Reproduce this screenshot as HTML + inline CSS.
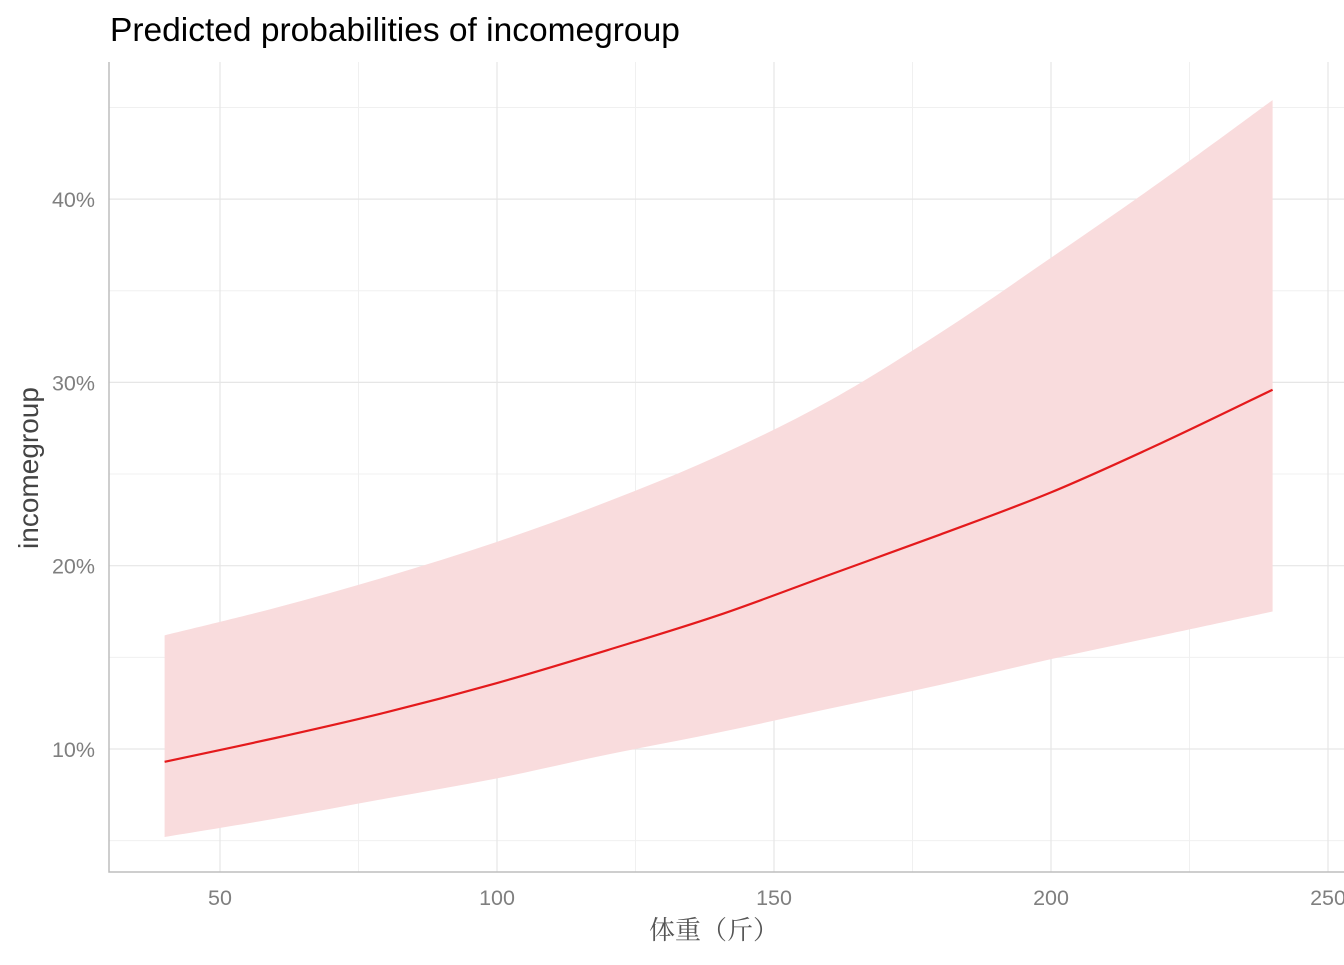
<!DOCTYPE html>
<html><head><meta charset="utf-8"><style>
body{margin:0;background:#fff;}
svg text{font-family:"Liberation Sans",sans-serif;}
</style></head><body>
<svg id="chart" width="1344" height="960" xmlns="http://www.w3.org/2000/svg">
<rect width="1344" height="960" fill="#fff"/>
<g id="grid"></g>
<g id="marks"></g>
<g id="axes"></g>
<text x="110" y="41" font-size="33.5" fill="#000">Predicted probabilities of incomegroup</text>
<text transform="translate(38,468) rotate(-90)" text-anchor="middle" font-size="28" fill="#444">incomegroup</text>
<text x="714" y="939" text-anchor="middle" font-size="26" fill="#555" style="font-family:'Noto Serif CJK SC','Noto Sans CJK SC',serif">体重（斤）</text>
</svg>
<script>
const xs=[40,60,80,100,120,140,160,180,200,220,240];
const predicted=[9.3,10.6,12.0,13.6,15.4,17.3,19.5,21.7,24.0,26.7,29.6];
const upper=[16.2,17.7,19.4,21.3,23.5,26.0,29.0,32.7,36.8,41.0,45.4];
const lower=[5.2,6.2,7.3,8.4,9.7,10.9,12.2,13.5,14.9,16.2,17.5];
const xTicks=[50,100,150,200,250];
const xMinor=[75,125,175,225];
const yTicks=[10,20,30,40];
const yTickLabels=["10%","20%","30%","40%"];
const yMinor=[5,15,25,35,45];

const X=v=>220+(v-50)*5.54;
const Y=v=>749-(v-10)*18.33;
const NS="http://www.w3.org/2000/svg";
const grid=document.getElementById('grid'),marks=document.getElementById('marks'),axes=document.getElementById('axes');
function mk(tag,attrs,parent){const e=document.createElementNS(NS,tag);for(const k in attrs)e.setAttribute(k,attrs[k]);parent.appendChild(e);return e;}
function smooth(pts){let s='';for(let i=0;i<pts.length-1;i++){const p0=pts[Math.max(0,i-1)],p1=pts[i],p2=pts[i+1],p3=pts[Math.min(pts.length-1,i+2)];
const c1=[p1[0]+(p2[0]-p0[0])/6,p1[1]+(p2[1]-p0[1])/6],c2=[p2[0]-(p3[0]-p1[0])/6,p2[1]-(p3[1]-p1[1])/6];
s+=`C${c1[0]},${c1[1]} ${c2[0]},${c2[1]} ${p2[0]},${p2[1]}`;}return s;}
const L=109,R=1344,T=62,B=872;
yMinor.forEach(v=>{const e=mk('line',{x1:L,x2:R,y1:Y(v),y2:Y(v),stroke:'#f0f0f0','stroke-width':1},grid);

});
xMinor.forEach(v=>{const e=mk('line',{x1:X(v),x2:X(v),y1:T,y2:B,stroke:'#f0f0f0','stroke-width':1},grid);

});
yTicks.forEach((v,i)=>{const e=mk('line',{x1:L,x2:R,y1:Y(v),y2:Y(v),stroke:'#e6e6e6','stroke-width':1.2},grid);


const t=mk('text',{x:95,y:Y(v)+8,'text-anchor':'end','font-size':21.5,fill:'#7f7f7f'},axes);t.textContent=yTickLabels[i];

});
xTicks.forEach(v=>{const e=mk('line',{x1:X(v),x2:X(v),y1:T,y2:B,stroke:'#e6e6e6','stroke-width':1.2},grid);


const t=mk('text',{x:X(v),y:905,'text-anchor':'middle','font-size':21.5,fill:'#7f7f7f'},axes);t.textContent=v;

});
const up=xs.map((x,i)=>[X(x),Y(upper[i])]);
const lo=xs.map((x,i)=>[X(x),Y(lower[i])]).reverse();
const d='M'+up[0]+smooth(up)+'L'+lo[0]+smooth(lo)+'Z';
const band=mk('path',{d:d,fill:'#f9dcdd'},marks);


const pr=xs.map((x,i)=>[X(x),Y(predicted[i])]);
const line=mk('path',{d:'M'+pr[0]+smooth(pr),fill:'none',stroke:'#e41a1c','stroke-width':2.2},marks);


const ax=mk('path',{d:`M${L},${T}V${B}H${R}`,fill:'none',stroke:'#bdbdbd','stroke-width':1.5},axes);


</script>
</body></html>
